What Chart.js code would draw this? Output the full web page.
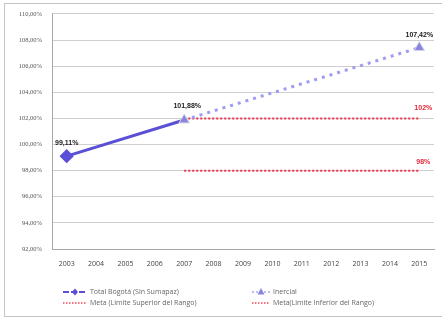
<!DOCTYPE html>
<html>
<head>
<meta charset="utf-8">
<script src="https://cdn.jsdelivr.net/npm/chart.js@4/dist/chart.umd.min.js"></script>
<style>
  html, body { margin: 0; padding: 0; background: #fff; }
  #wrap { position: relative; width: 442px; height: 321px; }
  #frame { position: absolute; left: 4px; top: 3px; width: 440px; height: 314px;
           border: 1px solid #c4c4c4; box-sizing: border-box; pointer-events: none; }
</style>
</head>
<body>
<div id="wrap">
  <canvas id="myChart" width="442" height="321"></canvas>
  <div id="frame"></div>
</div>
<script>
const years = ["2003", "2004", "2005", "2006", "2007", "2008", "2009", "2010", "2011", "2012", "2013", "2014", "2015"];
const total_bogota = [99.11, null, null, null, 101.88, null, null, null, null, null, null, null, null];
const inercial = [null, null, null, null, 101.88, null, null, null, null, null, null, null, 107.42];
const meta_superior = [null, null, null, null, 102, 102, 102, 102, 102, 102, 102, 102, 102];
const meta_inferior = [null, null, null, null, 98, 98, 98, 98, 98, 98, 98, 98, 98];
const legend_names = ["Total Bogotá (Sin Sumapaz)", "Inercial", "Meta (Limite Superior del Rango)", "Meta(Limite Inferior del Rango)"];

const fmt = function (v) {
  return v.toFixed(2).replace(".", ",") + "%";
};

// labels over the points and over the red lines
const labelPlugin = {
  id: "labels",
  afterDatasetsDraw(chart) {
    const ctx = chart.ctx;
    const x = chart.scales.x;
    const y = chart.scales.y;
    ctx.save();
    ctx.textAlign = "center";
    ctx.textBaseline = "middle";
    ctx.font = "bold 7px 'Liberation Sans', sans-serif";
    ctx.fillStyle = "#222";
    ctx.fillText(fmt(99.11), x.getPixelForValue(0), y.getPixelForValue(99.11) - 13);
    ctx.fillText(fmt(101.88), x.getPixelForValue(4) + 3, y.getPixelForValue(101.88) - 14);
    ctx.fillText(fmt(107.42), x.getPixelForValue(12), y.getPixelForValue(107.42) - 13);
    ctx.fillStyle = "#e8283c";
    ctx.fillText("102%", x.getPixelForValue(12) + 4, y.getPixelForValue(102) - 10);
    ctx.fillText("98%", x.getPixelForValue(12) + 4, y.getPixelForValue(98) - 9);
    ctx.restore();
  },
};

// two column legend like the original
const legendPlugin = {
  id: "legend2",
  afterDraw(chart) {
    const ctx = chart.ctx;
    const items = [
      { x: 63, y: 292, kind: "main" },
      { x: 252, y: 292, kind: "trend" },
      { x: 63, y: 303, kind: "red" },
      { x: 252, y: 303, kind: "red" },
    ];
    ctx.save();
    for (let i = 0; i < items.length; i++) {
      const it = items[i];
      const w = 24;
      if (it.kind === "main") {
        ctx.strokeStyle = "#5b4fd6";
        ctx.lineWidth = 2;
        ctx.setLineDash([6, 2]);
        ctx.beginPath();
        ctx.moveTo(it.x, it.y);
        ctx.lineTo(it.x + w, it.y);
        ctx.stroke();
        ctx.setLineDash([]);
        ctx.fillStyle = "#5b4fd6";
        ctx.beginPath();
        ctx.moveTo(it.x + w / 2, it.y - 3.5);
        ctx.lineTo(it.x + w / 2 + 3, it.y);
        ctx.lineTo(it.x + w / 2, it.y + 3.5);
        ctx.lineTo(it.x + w / 2 - 3, it.y);
        ctx.closePath();
        ctx.fill();
      } else if (it.kind === "trend") {
        ctx.strokeStyle = "#a8a8f0";
        ctx.lineWidth = 1.5;
        ctx.setLineDash([2, 2]);
        ctx.beginPath();
        ctx.moveTo(it.x, it.y);
        ctx.lineTo(it.x + 18, it.y);
        ctx.stroke();
        ctx.setLineDash([]);
        ctx.fillStyle = "#8a84e0";
        ctx.beginPath();
        ctx.moveTo(it.x + 9, it.y - 4);
        ctx.lineTo(it.x + 12.5, it.y + 2.5);
        ctx.lineTo(it.x + 5.5, it.y + 2.5);
        ctx.closePath();
        ctx.fill();
      } else {
        ctx.strokeStyle = "#f04a5c";
        ctx.lineWidth = 1.5;
        ctx.setLineDash([1.5, 1.5]);
        ctx.beginPath();
        ctx.moveTo(it.x, it.y);
        ctx.lineTo(it.x + (i === 2 ? w : 18), it.y);
        ctx.stroke();
        ctx.setLineDash([]);
      }
      ctx.fillStyle = "#666";
      ctx.font = "7px 'Open Sans', sans-serif";
      ctx.textBaseline = "middle";
      ctx.textAlign = "left";
      const tx = it.x + (it.kind === "main" || i === 2 ? w + 3 : 21);
      ctx.fillText(legend_names[i], tx, it.y);
    }
    ctx.restore();
  },
};

const ctx1 = document.getElementById("myChart").getContext("2d");
const myChart = new Chart(ctx1, {
  type: "line",
  data: {
    labels: years,
    datasets: [
      {
        label: legend_names[2],
        data: meta_superior,
        order: 3,
        borderColor: "#f0304a",
        borderWidth: 2,
        borderDash: [2, 2],
        pointRadius: 0,
      },
      {
        label: legend_names[3],
        data: meta_inferior,
        order: 3,
        borderColor: "#f0304a",
        borderWidth: 2,
        borderDash: [2, 2],
        pointRadius: 0,
      },
      {
        label: legend_names[1],
        data: inercial,
        order: 0,
        spanGaps: true,
        borderColor: "#9e9cf0",
        borderWidth: 3,
        borderDash: [3, 5],
        pointStyle: "triangle",
        pointRadius: 6,
        pointBackgroundColor: "#8a84e0",
        pointBorderColor: "#d8d8e8",
        pointBorderWidth: 1,
      },
      {
        label: legend_names[0],
        data: total_bogota,
        order: 1,
        spanGaps: true,
        borderColor: "#5b4fd6",
        borderWidth: 3,
        pointStyle: "rectRot",
        pointRadius: [5, 0, 0, 0, 0, 0, 0, 0, 0, 0, 0, 0, 0],
        pointBackgroundColor: "#5b4fd6",
        pointBorderColor: "#5b4fd6",
      },
    ],
  },
  options: {
    responsive: false,
    animation: false,
    layout: { padding: { left: 5, top: 13, right: 5, bottom: 50 } },
    plugins: {
      legend: { display: false },
      tooltip: { enabled: false },
    },
    scales: {
      x: {
        offset: true,
        afterFit: function (s) { s.height = 22; },
        grid: { display: false, drawTicks: false },
        border: { color: "#a8a8a8" },
        ticks: {
          color: "#444",
          padding: 11,
          font: { size: 7, family: "'Open Sans', sans-serif" },
          maxRotation: 0,
          autoSkip: false,
        },
      },
      y: {
        min: 92,
        max: 110,
        afterFit: function (s) { s.width = 47; },
        grid: { color: "#cfcfcf", drawTicks: false },
        border: { color: "#a8a8a8" },
        ticks: {
          stepSize: 2,
          color: "#555",
          padding: 10,
          font: { size: 6.5, family: "'Liberation Serif', serif" },
          callback: function (v) { return fmt(v); },
        },
      },
    },
  },
  plugins: [labelPlugin, legendPlugin],
});
</script>
</body>
</html>
